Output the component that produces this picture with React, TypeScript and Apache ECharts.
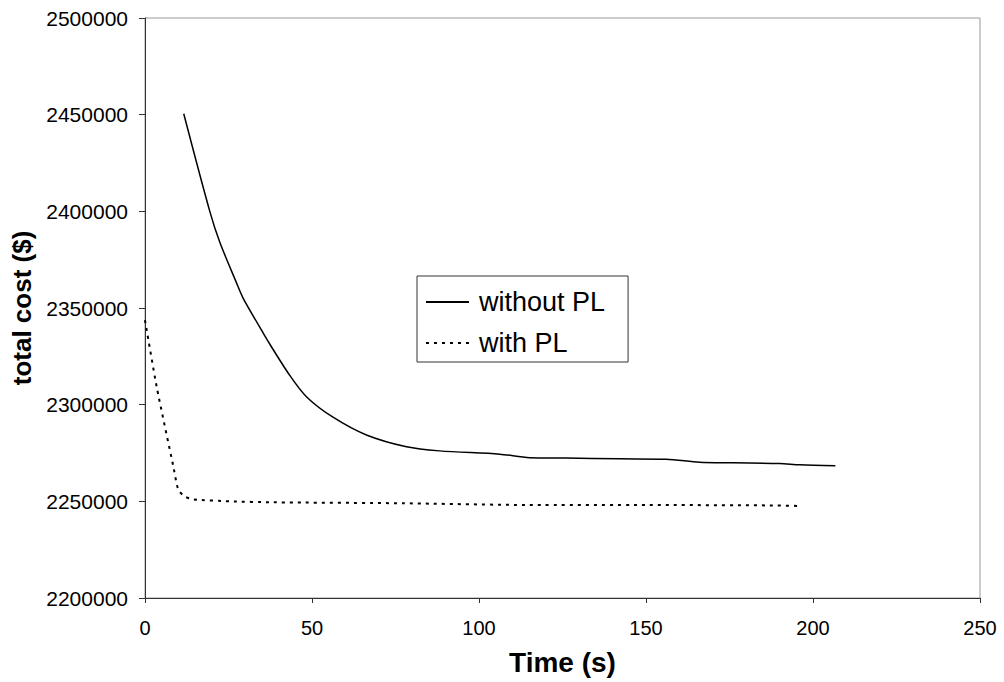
import React, { useEffect, useRef } from "react";
import * as echarts from "echarts";

const withoutPLTime = [11.6, 19.4, 22.4, 27.4, 29.4, 34.4, 36.4, 43.4, 48.4, 56.3, 66.3, 78.3, 88.2, 106.2, 115.2, 125.9, 142.1, 156, 166, 175.9, 190, 196, 206.7];
const withoutPLCost = [2450500, 2400000, 2384000, 2363000, 2355000, 2340000, 2334000, 2315000, 2304000, 2293500, 2284300, 2278200, 2276100, 2274400, 2272600, 2272400, 2272000, 2271800, 2270200, 2269900, 2269600, 2268900, 2268400];

const withPLTime = [0, 3.5, 8.5, 10, 12, 14.5, 25.4, 38.4, 77.3, 115, 150, 186, 196];
const withPLCost = [2343700, 2309200, 2267900, 2255800, 2252400, 2251000, 2250000, 2249500, 2249000, 2248100, 2248100, 2247900, 2247600];

const seriesNames = ["without PL", "with PL"];
const xTitle = "Time (s)";
const yTitle = "total cost ($)";

const FONT = "'Liberation Sans', Arial, sans-serif";

export default function App() {
  const ref = useRef<HTMLDivElement>(null);
  useEffect(() => {
    if (!ref.current) return;
    const chart = echarts.init(ref.current, undefined, { renderer: "svg" });
    const pairs = (xs: number[], ys: number[]) => xs.map((x, i) => [x, ys[i]]);
    chart.setOption({
      animation: false,
      backgroundColor: "#ffffff",
      textStyle: { fontFamily: FONT, color: "#000" },
      grid: {
        left: 145,
        right: 24,
        top: 18,
        bottom: 84,
        show: true,
        borderColor: "#999",
        borderWidth: 1,
        backgroundColor: "transparent",
      },
      legend: {
        left: 417,
        top: 276,
        orient: "vertical",
        padding: [11, 23, 4, 8],
        itemGap: 11,
        itemWidth: 43,
        itemHeight: 14,
        borderColor: "#333",
        borderWidth: 1,
        backgroundColor: "#fff",
        itemStyle: { opacity: 0, color: "transparent", borderWidth: 0 },
        textStyle: {
          fontFamily: FONT,
          fontSize: 27,
          color: "#000",
          lineHeight: 30,
          padding: [0, 0, 0, 5],
        },
        data: seriesNames,
      },
      xAxis: {
        type: "value",
        min: 0,
        max: 250,
        interval: 50,
        name: xTitle,
        nameLocation: "middle",
        nameGap: 50,
        nameTextStyle: { fontFamily: FONT, fontSize: 28, fontWeight: "bold", color: "#000" },
        axisLine: { show: true, lineStyle: { color: "#333", width: 1 } },
        axisTick: { show: true, length: 5, lineStyle: { color: "#333" } },
        axisLabel: { fontFamily: FONT, fontSize: 20, color: "#000", margin: 20 },
        splitLine: { show: false },
      },
      yAxis: {
        type: "value",
        min: 2200000,
        max: 2500000,
        interval: 50000,
        name: yTitle,
        nameLocation: "middle",
        nameGap: 94,
        nameRotate: 90,
        nameTextStyle: { fontFamily: FONT, fontSize: 26, fontWeight: "bold", color: "#000" },
        axisLine: { show: true, lineStyle: { color: "#333", width: 1 } },
        axisTick: { show: true, length: 6, lineStyle: { color: "#333" } },
        axisLabel: {
          fontFamily: FONT,
          fontSize: 21,
          color: "#000",
          margin: 17,
          formatter: (v: number) => String(v),
        },
        splitLine: { show: false },
      },
      series: [
        {
          name: seriesNames[0],
          type: "line",
          symbol: "none",
          smooth: 0.3,
          data: pairs(withoutPLTime, withoutPLCost),
          lineStyle: { color: "#000", width: 1.5, type: "solid" },
          itemStyle: { color: "#000" },
        },
        {
          name: seriesNames[1],
          type: "line",
          symbol: "none",
          smooth: 0.2,
          data: pairs(withPLTime, withPLCost),
          lineStyle: { color: "#000", width: 2, type: [3, 5] },
          itemStyle: { color: "#000" },
        },
      ],
    });
    return () => chart.dispose();
  }, []);
  return (
    <div
      ref={ref}
      style={{ position: "fixed", left: 0, top: 0, width: 1004, height: 682, background: "#fff" }}
    />
  );
}
